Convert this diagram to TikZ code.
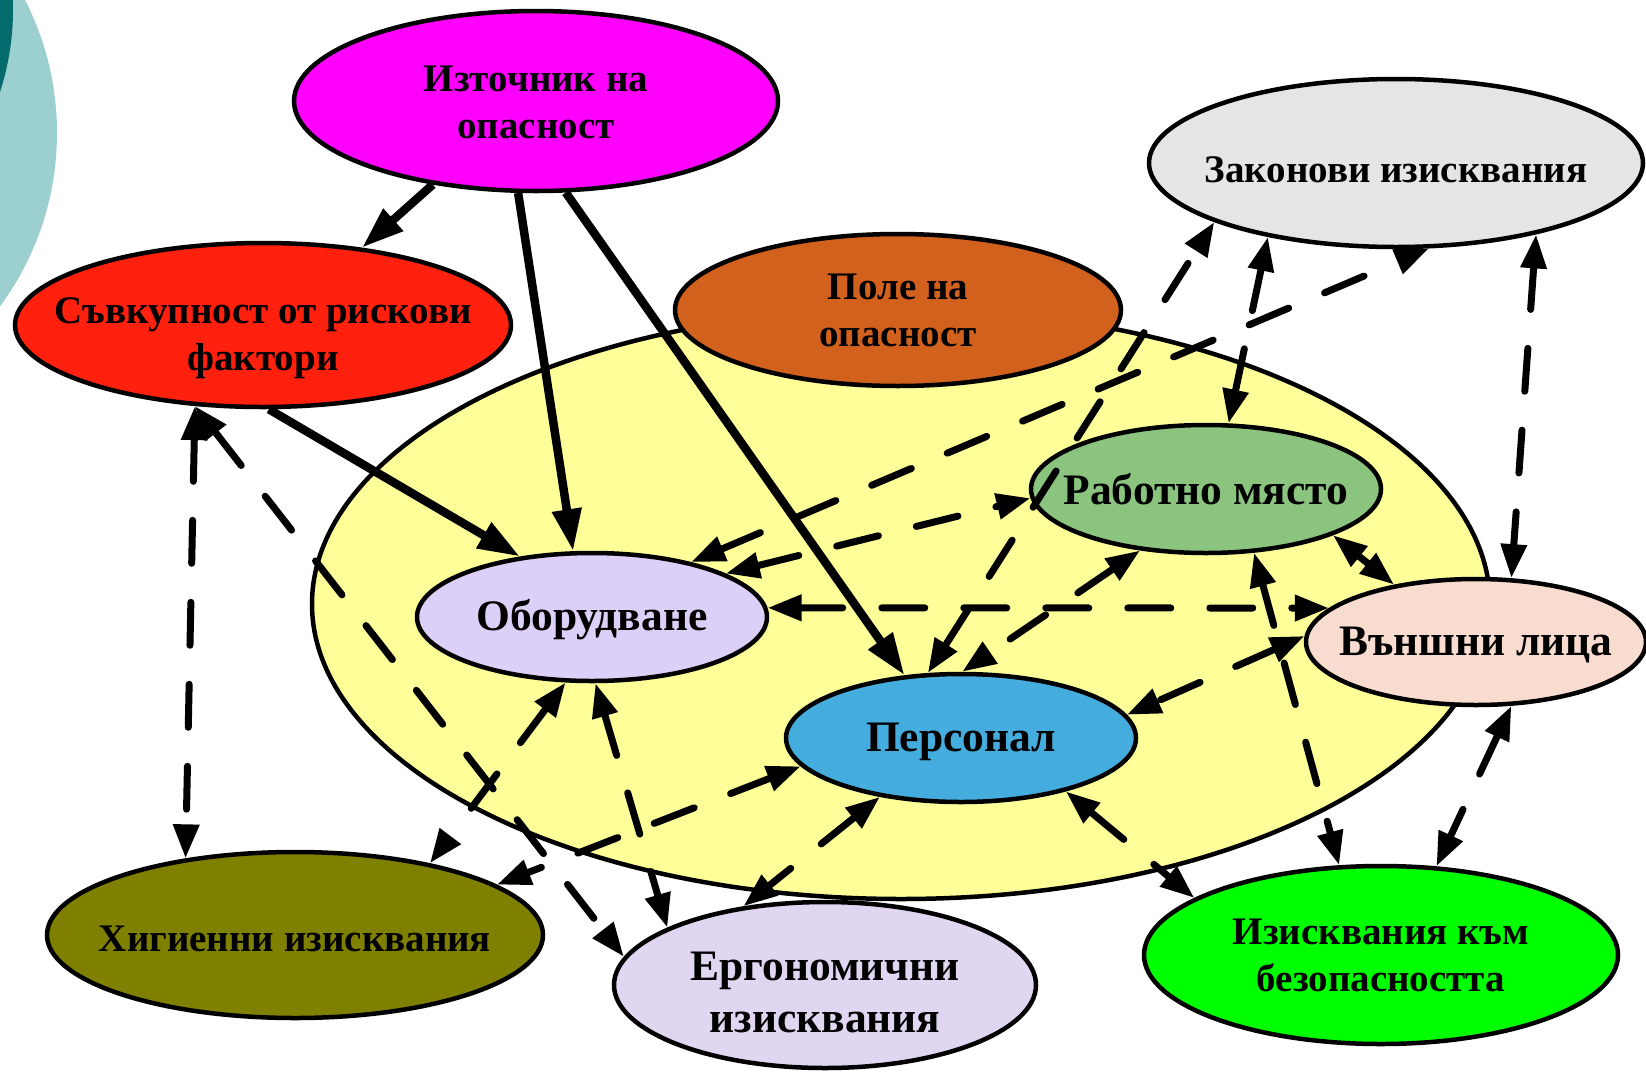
\documentclass[tikz,border=0pt]{standalone}
\usepackage{fontspec}
\setmainfont{Liberation Serif}
\usetikzlibrary{arrows.meta,shapes.geometric}
\definecolor{tealdark}{HTML}{036B6B}
\definecolor{teallight}{HTML}{9CCFCF}
\definecolor{cmag}{HTML}{FF00FF}
\definecolor{cred}{HTML}{FF200D}
\definecolor{cbrown}{HTML}{D2611E}
\definecolor{cgray}{HTML}{E5E5E5}
\definecolor{cyel}{HTML}{FFFF99}
\definecolor{cwork}{HTML}{8BC47F}
\definecolor{ceq}{HTML}{DCD0F8}
\definecolor{cpers}{HTML}{44ADDD}
\definecolor{cext}{HTML}{F9DCD0}
\definecolor{colive}{HTML}{808000}
\definecolor{cerg}{HTML}{E0D6F2}
\definecolor{cgreen}{HTML}{00FF00}
\begin{document}
\begin{tikzpicture}[x=1pt,y=-1pt,
  blob/.style={ellipse, draw=black, line width=4.5pt, inner sep=0pt},
  lbla/.style={align=center, inner sep=0pt, font=\bfseries\fontsize{43.5}{52}\selectfont},
  lblb/.style={align=center, inner sep=0pt, font=\bfseries\fontsize{39}{47}\selectfont},
  solidarrow/.style={line width=8.5pt, -{Triangle[length=42pt,width=28pt]}},
  dasharrow/.style={line width=7pt, line cap=round, dash pattern=on 43pt off 39pt,
    {Triangle[length=34pt,width=25pt]}-{Triangle[length=34pt,width=25pt]}}]
\useasboundingbox (0,0) rectangle (1646,1071);
\begin{scope}
  \clip (0,0) rectangle (1646,1071);
  \fill[teallight] (-235,133) circle[radius=292];
  \fill[tealdark] (-250,10) circle[radius=263];
\end{scope}
% big yellow field
\node[blob, fill=cyel, minimum width=1178, minimum height=590] (yel) at (901,604) {};
% ellipses
\node[blob, fill=cmag, minimum width=484, minimum height=180] (src) at (536,101) {};
\node[blob, fill=cred, minimum width=496, minimum height=164] (set) at (263,325) {};
\node[blob, fill=cbrown, minimum width=446, minimum height=152] (field) at (898,310) {};
\node[blob, fill=cgray, minimum width=494, minimum height=168] (law) at (1396,163) {};
\node[blob, fill=cwork, minimum width=350, minimum height=128] (work) at (1206,489) {};
\node[blob, fill=ceq, minimum width=350, minimum height=128] (eq) at (592,617) {};
\node[blob, fill=cpers, minimum width=350, minimum height=128] (pers) at (961,738) {};
\node[blob, fill=cext, minimum width=340, minimum height=126] (ext) at (1476,642) {};
\node[blob, fill=colive, minimum width=496, minimum height=166] (hyg) at (295,935) {};
\node[blob, fill=cerg, minimum width=422, minimum height=166] (erg) at (825,985) {};
\node[blob, fill=cgreen, minimum width=474, minimum height=178] (safe) at (1381,955) {};
% labels
\node[lblb, yshift=-1pt] (src-t) at (src.center) {Източник на\\опасност};
\node[lblb, yshift=-13pt] (set-t) at (set.center) {Съвкупност от рискови\\фактори};
\node[lblb] (field-t) at (field.center) {Поле на\\опасност};
\node[lblb, yshift=-7pt] (law-t) at (law.center) {Законови изисквания};
\node[lbla] (work-t) at (work.center) {Работно място};
\node[lbla, yshift=-3pt] (eq-t) at (eq.center) {Оборудване};
\node[lbla, yshift=-4pt] (pers-t) at (pers.center) {Персонал};
\node[lbla, yshift=-3pt] (ext-t) at (ext.center) {Външни лица};
\node[lblb, yshift=-4pt] (hyg-t) at (hyg.center) {Хигиенни изисквания};
\node[lbla, yshift=-7pt] (erg-t) at (erg.center) {Ергономични\\изисквания};
\node[lblb] (safe-t) at (safe.center) {Изисквания към\\безопасността};
% solid arrows
\draw[solidarrow] (src.-141.5) -- (set.38.8);
\draw[solidarrow] (src.-101) -- (eq.106.5);
\draw[solidarrow] (src.-72) -- (pers.132.5);
\draw[solidarrow] (set.-86.5) -- (eq.140.7);
% dashed double arrows
\draw[dasharrow] (law.-150) -- (work.71);
\draw[dasharrow] (eq.29.8) -- (law.-69.6);
\draw[dasharrow] (pers.117) -- (law.-162);
\draw[dasharrow] (eq.18.7) -- (work.-177);
\draw[dasharrow] (eq.3) -- (ext.167);
\draw[dasharrow] (work.-20.7) -- (ext.145);
\draw[dasharrow] (work.-53) -- (safe.115);
\draw[dasharrow] (ext.178) -- (pers.8.2);
\draw[dasharrow] (law.-27.5) -- (ext.61.7);
\draw[dasharrow] (ext.-61.5) -- (safe.58.3);
\draw[dasharrow] (pers.-27.8) -- (safe.163.7);
\draw[dasharrow] (pers.-144.4) -- (erg.136.8);
\draw[dasharrow] (eq.-87.5) -- (erg.160);
\draw[dasharrow] (set.-130.5) -- (hyg.145);
\draw[dasharrow] (set.-130.5) -- (erg.172.6);
\draw[dasharrow] (eq.-112.4) -- (hyg.28.7);
\draw[dasharrow] (pers.-170.5) -- (hyg.14);
\draw[dasharrow] (work.-137) -- (pers.89);
\end{tikzpicture}
\end{document}
